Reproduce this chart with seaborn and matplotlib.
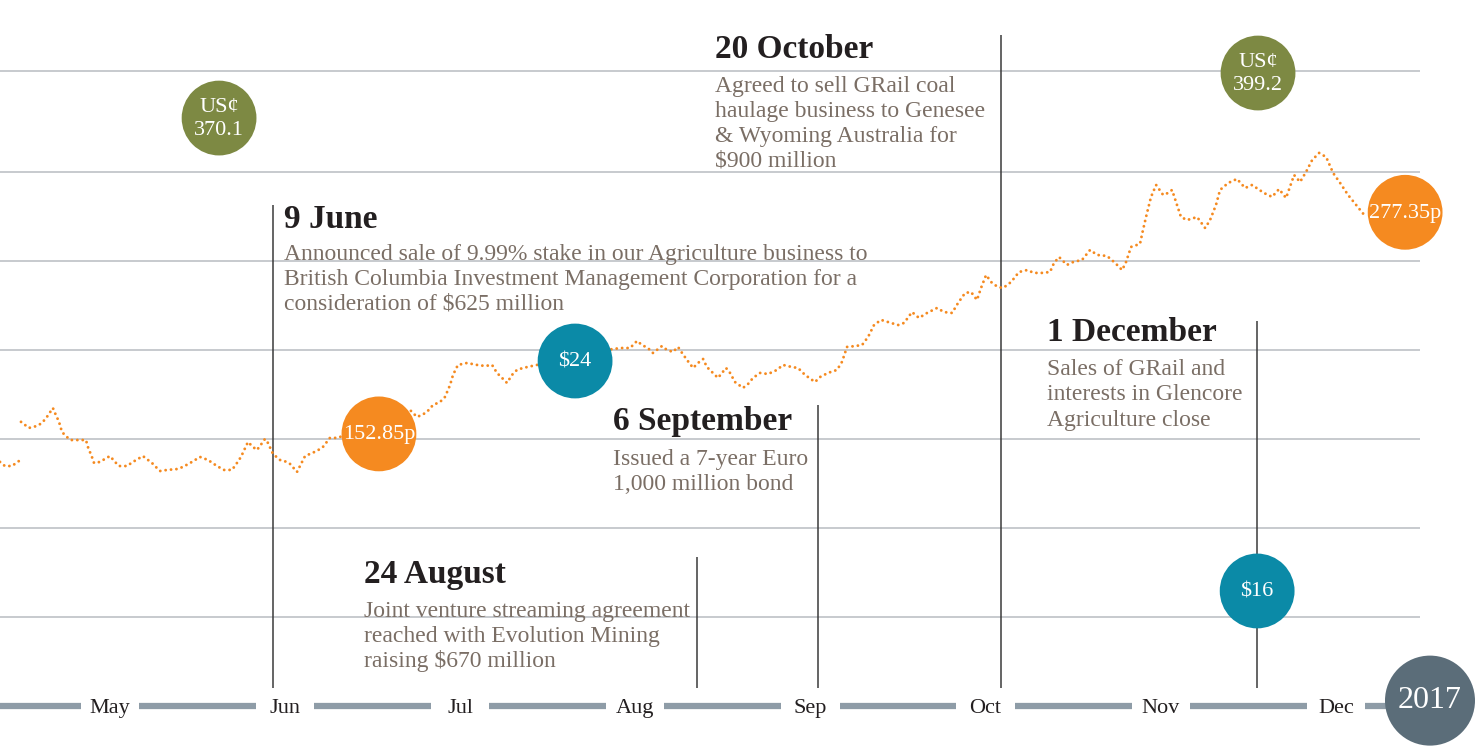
import seaborn as sns
import matplotlib.pyplot as plt
import numpy as np
import pandas as pd

# share price (pence), x = month position (5 = May ... 12 = Dec)
price_x = [4.372, 4.400, 4.440, 4.480,
           4.492, 4.537, 4.583, 4.612, 4.640, 4.674, 4.686, 4.709, 4.726, 4.754,
           4.777, 4.829, 4.863, 4.874, 4.897, 4.909, 4.943, 4.971, 5.000, 5.029,
           5.051, 5.097, 5.131, 5.160, 5.188, 5.240, 5.268, 5.286, 5.326, 5.383,
           5.417, 5.468, 5.514, 5.560, 5.611, 5.651, 5.697, 5.725, 5.748, 5.788,
           5.817, 5.839, 5.857, 5.885, 5.902, 5.931, 5.971, 6.011, 6.028, 6.068,
           6.085, 6.114, 6.142, 6.182, 6.216, 6.256, 6.296, 6.331, 6.713, 6.753,
           6.782, 6.810, 6.845, 6.885, 6.913, 6.942, 6.959, 6.987, 7.039, 7.096,
           7.142, 7.182, 7.210, 7.239, 7.267, 7.296, 7.324, 7.359, 7.410, 7.873,
           7.924, 7.970, 8.010, 8.038, 8.072, 8.101, 8.152, 8.181, 8.215, 8.244,
           8.267, 8.295, 8.330, 8.358, 8.387, 8.409, 8.438, 8.472, 8.495, 8.518,
           8.541, 8.569, 8.615, 8.644, 8.672, 8.712, 8.758, 8.809, 8.843, 8.895,
           8.929, 8.969, 9.026, 9.055, 9.100, 9.152, 9.180, 9.209, 9.255, 9.295,
           9.329, 9.363, 9.403, 9.460, 9.500, 9.535, 9.580, 9.620, 9.666, 9.723,
           9.763, 9.809, 9.843, 9.883, 9.917, 9.951, 9.974, 10.003, 10.037, 10.071,
           10.100, 10.146, 10.191, 10.237, 10.277, 10.323, 10.368, 10.391, 10.420,
           10.465, 10.500, 10.551, 10.597, 10.637, 10.694, 10.740, 10.780, 10.802,
           10.831, 10.882, 10.899, 10.922, 10.945, 10.974, 11.014, 11.042, 11.065,
           11.088, 11.116, 11.151, 11.208, 11.254, 11.282, 11.316, 11.339, 11.385,
           11.436, 11.482, 11.522, 11.590, 11.636, 11.676, 11.716, 11.762, 11.796,
           11.830, 11.865, 11.905, 11.945, 11.985, 12.025, 12.070, 12.116, 12.167]
price = [137.1, 134.8, 134.8, 137.6,
         159.6, 156.2, 157.3, 159.0, 162.4, 167.4, 164.6, 159.6, 153.9, 151.1,
         149.4, 149.4, 149.4, 145.5, 139.9, 136.5, 137.1, 138.8, 140.4, 137.1,
         134.8, 134.8, 137.1, 138.8, 140.4, 136.5, 133.7, 132.0, 132.6, 133.1,
         134.3, 137.1, 139.9, 138.2, 134.8, 132.6, 132.6, 136.5, 139.9, 148.3,
         145.5, 143.8, 146.1, 150.0, 147.8, 141.6, 138.2, 137.1, 136.0, 131.5,
         134.8, 140.4, 141.6, 143.3, 145.5, 150.6, 150.6, 151.7, 166.3, 162.4,
         163.5, 165.2, 169.1, 170.8, 173.6, 180.3, 186.0, 191.6, 192.7, 191.6,
         191.0, 191.6, 187.1, 184.3, 181.5, 186.0, 188.8, 189.9, 191.0, 200.6,
         201.1, 201.1, 205.1, 202.8, 201.1, 198.3, 202.2, 200.0, 198.9, 201.7,
         198.3, 194.4, 189.9, 192.7, 194.9, 190.4, 187.6, 184.3, 187.1, 189.9,
         187.1, 182.0, 178.7, 180.9, 184.3, 187.1, 186.5, 188.8, 191.6, 190.4,
         189.9, 186.0, 182.0, 184.8, 187.1, 188.8, 193.3, 201.7, 202.2, 202.8,
         207.3, 214.0, 216.9, 215.2, 214.0, 215.2, 221.3, 218.0, 220.8, 223.6,
         221.3, 220.8, 226.4, 232.0, 232.6, 228.1, 234.8, 242.1, 237.6, 235.4,
         234.8, 238.2, 243.8, 244.9, 243.3, 243.3, 243.8, 248.9, 252.2,
         247.8, 249.4, 250.6, 256.2, 253.4, 252.8, 248.9, 244.9, 249.4,
         257.9, 259.6, 267.4, 277.0, 286.0, 292.7, 287.1, 288.2, 289.9,
         283.1, 274.7, 273.0, 274.7, 268.5, 273.0, 281.5, 289.9, 293.8,
         296.1, 291.0, 292.7, 288.2, 286.0, 290.4, 285.4, 298.3, 294.4,
         300.0, 306.7, 310.7, 308.4, 299.4, 293.8, 287.1, 281.5, 275.3]
segment = [0] * 4 + [1] * (len(price) - 4)

month_labels = ["May", "Jun", "Jul", "Aug", "Sep", "Oct", "Nov", "Dec"]
month_pos = [5, 6, 7, 8, 9, 10, 11, 12]
grid_values = [50, 100, 150, 200, 250, 300, 357]

# events: date label, description lines, position on timeline, top of marker line
event_titles = ["9 June", "24 August", "6 September", "20 October", "1 December"]
event_text = [
    ["Announced sale of 9.99% stake in our Agriculture business to",
     "British Columbia Investment Management Corporation for a",
     "consideration of $625 million"],
    ["Joint venture streaming agreement",
     "reached with Evolution Mining",
     "raising $670 million"],
    ["Issued a 7-year Euro", "1,000 million bond"],
    ["Agreed to sell GRail coal", "haulage business to Genesee",
     "& Wyoming Australia for", "$900 million"],
    ["Sales of GRail and", "interests in Glencore", "Agriculture close"],
]
event_x = [5.931, 8.352, 9.043, 10.089, 11.551]
event_top = [281.5, 83.7, 169.1, 377.0, 216.3]

# highlighted values shown as bubbles
bubble_labels = ["152.85p", "277.35p", "$24", "$16", "US¢\n370.1", "US¢\n399.2"]
bubble_x = [6.536, 12.396, 7.656, 11.551, 5.623, 11.556]
bubble_y = [152.85, 277.35, 193.8, 64.6, 330.3, 355.6]
bubble_kind = ["share", "share", "gold", "gold", "copper", "copper"]

BG = "#f2ede8"
ORANGE = "#f58a20"
TEAL = "#0b8aa7"
OLIVE = "#7d8943"
SLATE = "#5b6d79"
kind_colors = {"share": ORANGE, "gold": TEAL, "copper": OLIVE}

sns.set_theme(style="white")
plt.rcParams["font.family"] = ["Liberation Serif", "DejaVu Serif"]

fig = plt.figure(figsize=(14.75, 7.46), dpi=100, facecolor="white")
ax = fig.add_axes([0, 0, 1, 731 / 746])
ax.set_facecolor(BG)
ax.set_xlim(4.372, 12.795)
ax.set_ylim(-22.5, 388.2)
ax.axis("off")

# horizontal guides
ax.hlines(grid_values, 4.372, 12.48, color="#b8bcc1", lw=1.1, zorder=1)

# share price line
df = pd.DataFrame({"month": price_x, "price": price, "segment": segment})
sns.lineplot(data=df, x="month", y="price", units="segment", estimator=None,
             color=ORANGE, lw=2.1, linestyle=(0, (0.01, 1.85)),
             dash_capstyle="round", ax=ax, zorder=3, legend=False)

# event marker lines
ax.vlines(event_x, 10.1, event_top, color="#3a3a3a", lw=1.1, zorder=2)

# event annotations (left x, title y, first body line y, line pitch)
text_pos = [(5.994, 273.2, 253.9, 14.1),
            (6.451, 73.7, 53.3, 14.1),
            (7.873, 159.7, 138.7, 14.4),
            (8.455, 368.7, 348.2, 14.1),
            (10.351, 209.7, 189.2, 14.3)]
for title, lines, (tx, ty, by, pitch) in zip(event_titles, event_text, text_pos):
    ax.text(tx, ty, title, fontsize=24, fontweight="bold", color="#231f20",
            va="center", ha="left", zorder=5)
    for i, line in enumerate(lines):
        ax.text(tx, by - i * pitch, line, fontsize=17, color="#7a6e65",
                va="center", ha="left", zorder=5)

# bubbles
for lab, bx, by, kind in zip(bubble_labels, bubble_x, bubble_y, bubble_kind):
    ax.scatter(bx, by, s=2900, color=kind_colors[kind], edgecolor="none", zorder=6)
    ax.text(bx, by - 0.6, lab, fontsize=16, color="white", ha="center",
            va="center", linespacing=1.3, zorder=7)

# month axis: thick segments between labels
gap = 0.166
edges = [4.372] + month_pos
for a, b in zip(edges[:-1], edges[1:]):
    start = a if a == 4.372 else a + gap
    ax.plot([start, b - gap], [0, 0], color="#8e9ca7", lw=4.5,
            solid_capstyle="butt", zorder=2)
ax.plot([12 + gap, 12.6], [0, 0], color="#8e9ca7", lw=4.5,
        solid_capstyle="butt", zorder=2)
for lab, mx in zip(month_labels, month_pos):
    ax.text(mx, -1.4, lab, fontsize=16, color="#231f20", ha="center",
            va="center", zorder=5)

# year badge
ax.scatter(12.538, 3.0, s=4200, color=SLATE, edgecolor="none", zorder=6)
ax.text(12.538, 3.0, "2017", fontsize=23, color="white", ha="center",
        va="center", zorder=7)

fig.savefig("out.png", dpi=100, facecolor="white")
